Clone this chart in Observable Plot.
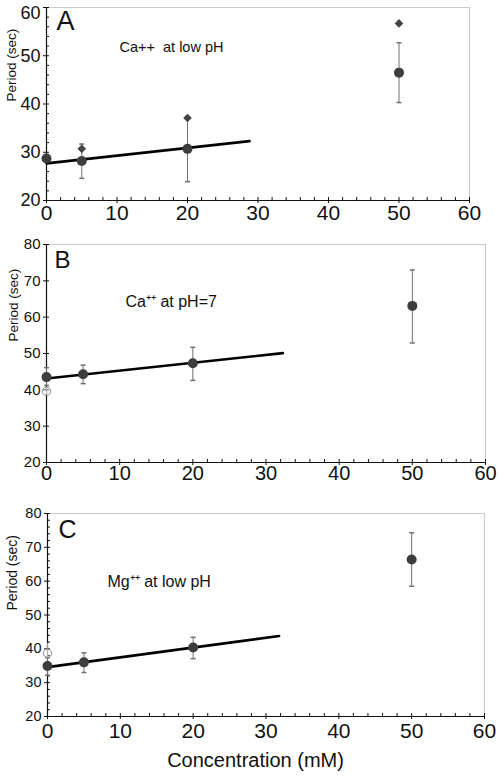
<!DOCTYPE html>
<html><head><meta charset="utf-8">
<script src="https://cdn.jsdelivr.net/npm/d3@7"></script>
<script src="https://cdn.jsdelivr.net/npm/@observablehq/plot@0.6"></script>
<style>
body{margin:0;background:#fff;}
#chart{width:498px;height:776px;position:relative;background:#fff;}
#chart > div{position:absolute;left:0;}
#chart svg{display:block;}
</style>
</head><body><div id="chart"></div>
<script>
// ---- tick values ----
const xMajorTicks = [0, 10, 20, 30, 40, 50, 60];
const xMinorTicks = [2,4,6,8,12,14,16,18,22,24,26,28,32,34,36,38,42,44,46,48,52,54,56,58];
const yTicksA = [20, 30, 40, 50, 60];
const yMinorA = [22,24,26,28,32,34,36,38,42,44,46,48,52,54,56,58];
const yTicksB = [20, 30, 40, 50, 60, 70, 80];
const yMinorB = [];
const yTicksC = [20, 30, 40, 50, 60, 70, 80];
const yMinorC = [22,24,26,28,32,34,36,38,42,44,46,48,52,54,56,58,62,64,66,68,72,74,76,78];

// ---- Panel A: Ca++ at low pH ----
const concA = [0, 5, 20, 50];
const meanA = [28.7, 28.2, 30.7, 46.5];
const lowA = [null, 24.6, 23.9, 40.3];
const highA = [null, 31.7, 37.4, 52.7];
const diamondConcA = [5, 20, 50];
const diamondA = [30.7, 37.1, 56.7];
const openConcA = [];
const openA = [];
const openLowA = [];
const openHighA = [];
const fitConcA = [0, 28.8];
const fitA = [27.7, 32.3];

// ---- Panel B: Ca++ at pH=7 ----
const concB = [0, 5, 20, 50];
const meanB = [43.5, 44.3, 47.3, 63.1];
const lowB = [41.2, 41.7, 42.6, 52.9];
const highB = [46.1, 46.8, 51.7, 73.0];
const openConcB = [0];
const openB = [39.6];
const openLowB = [38.6];
const openHighB = [40.6];
const fitConcB = [0, 32.3];
const fitB = [43.1, 50.1];

// ---- Panel C: Mg++ at low pH ----
const concC = [0, 5, 20, 50];
const meanC = [34.9, 36.0, 40.4, 66.4];
const lowC = [32.2, 33.0, 37.1, 58.5];
const highC = [37.4, 38.8, 43.4, 74.3];
const openConcC = [0];
const openC = [38.7];
const openLowC = [36.6];
const openHighC = [41.6];
const fitConcC = [0, 31.8];
const fitC = [34.6, 43.8];

const FONT = "'Liberation Sans', Arial, Helvetica, sans-serif";

const capSymbol = {draw(ctx, size) { const r = Math.sqrt(size / Math.PI); ctx.moveTo(-r, 0); ctx.lineTo(r, 0); }};
const diamondSymbol = {draw(ctx, size) { const r = Math.sqrt(size / Math.PI); ctx.moveTo(0, -r); ctx.lineTo(r, 0); ctx.lineTo(0, r); ctx.lineTo(-r, 0); ctx.closePath(); }};

function rows(xs, ys, lo, hi) {
  return xs.map((x, i) => ({x, y: ys[i], low: lo ? lo[i] : null, high: hi ? hi[i] : null}));
}

function panel(cfg) {
  const pts = rows(cfg.conc, cfg.mean, cfg.low, cfg.high);
  const err = pts.filter(d => d.low != null && d.high != null);
  const open = rows(cfg.openConc, cfg.open, cfg.openLow, cfg.openHigh);
  const openErr = open.filter(d => d.low != null && d.high != null);
  const dia = rows(cfg.diamondConc || [], cfg.diamond || []);
  const fit = rows(cfg.fitConc, cfg.fit);
  const errColor = "#707070";
  const yTop = cfg.yDomain[1];
  const labelTicks = cfg.shiftTop ? cfg.yTicks.filter(t => t !== yTop) : cfg.yTicks;
  const marks = [
    Plot.frame({anchor: "top", stroke: "#c8c8c8"}),
    Plot.frame({anchor: "right", stroke: "#c8c8c8"}),
    // x axis: major ticks cross the axis, minor ticks inside
    Plot.axisX(xMajorTicks, {tickSize: 3, tickPadding: cfg.xPad, fontSize: cfg.xFont, label: null, stroke: "#111", fill: "#111"}),
    Plot.axisX(xMajorTicks, {tickSize: -3, fill: "none", label: null, stroke: "#111"}),
    Plot.axisX(xMinorTicks, {tickSize: -3, fill: "none", label: null, stroke: "#111"}),
    // y axis
    Plot.axisY(cfg.yTicks, {tickSize: 3, fill: "none", label: null, stroke: "#111"}),
    Plot.axisY(labelTicks, {tickSize: 3, tickPadding: 3, fontSize: cfg.yFont, label: null, stroke: "none", fill: "#111"}),
    Plot.axisY(cfg.yTicks, {tickSize: -3, fill: "none", label: null, stroke: "#111"}),
    Plot.axisY(cfg.yMinor, {tickSize: -3, fill: "none", label: null, stroke: "#111"}),
    Plot.ruleY([cfg.yDomain[0]], {stroke: "#111", strokeWidth: 1.2}),
    Plot.ruleX([0], {stroke: "#111", strokeWidth: 1.2}),
    // error bars
    Plot.ruleX(openErr, {x: "x", y1: "low", y2: "high", stroke: "#999", strokeWidth: 1}),
    Plot.ruleX(err, {x: "x", y1: "low", y2: "high", stroke: errColor, strokeWidth: 1}),
    Plot.dot(err, {x: "x", y: "low", symbol: capSymbol, r: 2.5, stroke: errColor, fill: "none"}),
    Plot.dot(err, {x: "x", y: "high", symbol: capSymbol, r: 2.5, stroke: errColor, fill: "none"}),
    // fit line
    Plot.line(fit, {x: "x", y: "y", stroke: "#000", strokeWidth: 2.6}),
    // points
    Plot.dot(open, {x: "x", y: "y", r: 4.2, stroke: "#8a8a8a", fill: "white", fillOpacity: 0.3, strokeWidth: 1}),
    Plot.dot(pts, {x: "x", y: "y", r: 5, fill: "#3d3d3d", stroke: "none"}),
    Plot.dot(dia, {x: "x", y: "y", r: 4.3, symbol: diamondSymbol, fill: "#444", stroke: "none"}),
    // texts
    Plot.text([cfg.letter], {frameAnchor: "top-left", textAnchor: "start", lineAnchor: "middle", dx: cfg.letterDx, dy: cfg.letterDy, fontSize: cfg.letterFont, fill: "#111"}),
    Plot.text([cfg.subtitle], {frameAnchor: "top-left", textAnchor: "start", lineAnchor: "middle", dx: cfg.subDx, dy: cfg.subDy, fontSize: cfg.subFont, fill: "#111"}),
    Plot.text(["Period (sec)"], {frameAnchor: "left", lineAnchor: "middle", rotate: -90, dx: cfg.yLabDx, dy: cfg.yLabDy, fontSize: cfg.yLabFont, fill: "#111"})
  ];
  if (cfg.shiftTop) {
    marks.push(Plot.axisY([yTop], {tickSize: 3, tickPadding: 3, fontSize: cfg.yFont, label: null, stroke: "none", fill: "#111", dy: cfg.shiftTop}));
  }
  if (cfg.xTitle) {
    marks.push(Plot.text([cfg.xTitle], {frameAnchor: "bottom", lineAnchor: "middle", dx: cfg.xTitleDx, dy: cfg.xTitleDy, fontSize: 20, fill: "#111"}));
  }
  const svg = Plot.plot({
    width: 498,
    height: cfg.height,
    marginLeft: cfg.marginLeft,
    marginRight: cfg.marginRight,
    marginTop: cfg.marginTop,
    marginBottom: cfg.marginBottom,
    style: {fontFamily: FONT, background: "white", color: "#111", overflow: "visible"},
    x: {domain: [0, 60], axis: null},
    y: {domain: cfg.yDomain, axis: null},
    marks
  });
  const wrap = document.createElement("div");
  wrap.style.top = cfg.top + "px";
  wrap.appendChild(svg);
  document.getElementById("chart").appendChild(wrap);
}

panel({
  top: 0, height: 236, marginLeft: 46, marginRight: 29, marginTop: 7, marginBottom: 36,
  yDomain: [20, 60], yTicks: yTicksA, yMinor: yMinorA, xPad: 2, xFont: 21, yFont: 18, shiftTop: 6,
  conc: concA, mean: meanA, low: lowA, high: highA,
  openConc: openConcA, open: openA, openLow: openLowA, openHigh: openHighA,
  diamondConc: diamondConcA, diamond: diamondA, fitConc: fitConcA, fit: fitA,
  letter: "A", letterDx: 10, letterDy: 14, letterFont: 27,
  subtitle: "Ca++  at low pH", subDx: 73, subDy: 40, subFont: 14.5,
  yLabDx: -35, yLabDy: -2.5, yLabFont: 13.5
});

panel({
  top: 236, height: 270, marginLeft: 46, marginRight: 13, marginTop: 8, marginBottom: 44,
  yDomain: [20, 80], yTicks: yTicksB, yMinor: yMinorB, xPad: 0, xFont: 20, yFont: 15, shiftTop: 0,
  conc: concB, mean: meanB, low: lowB, high: highB,
  openConc: openConcB, open: openB, openLow: openLowB, openHigh: openHighB,
  fitConc: fitConcB, fit: fitB,
  letter: "B", letterDx: 8, letterDy: 16, letterFont: 24,
  subtitle: "Ca⁺⁺ at pH=7", subDx: 79, subDy: 57, subFont: 16,
  yLabDx: -33, yLabDy: -12, yLabFont: 13.5
});

panel({
  top: 506, height: 270, marginLeft: 47, marginRight: 14, marginTop: 7, marginBottom: 60,
  yDomain: [20, 80], yTicks: yTicksC, yMinor: yMinorC, xPad: 4, xFont: 21, yFont: 14.5, shiftTop: 0,
  conc: concC, mean: meanC, low: lowC, high: highC,
  openConc: openConcC, open: openC, openLow: openLowC, openHigh: openHighC,
  fitConc: fitConcC, fit: fitC,
  letter: "C", letterDx: 11, letterDy: 16, letterFont: 25,
  subtitle: "Mg⁺⁺ at low pH", subDx: 60, subDy: 68, subFont: 16,
  yLabDx: -35, yLabDy: -4.5, yLabFont: 14,
  xTitle: "Concentration (mM)", xTitleDx: -10.5, xTitleDy: 44
});
</script>
</body></html>
